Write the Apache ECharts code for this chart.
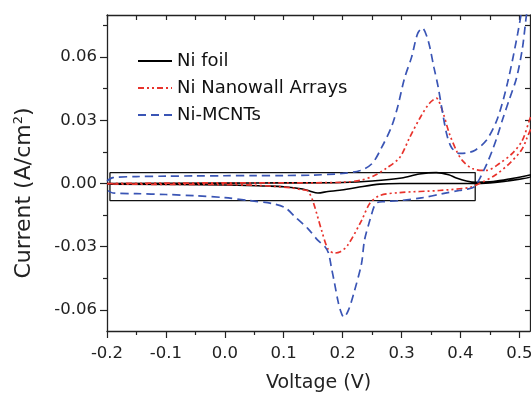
<!DOCTYPE html>
<html>
<head>
<meta charset="utf-8">
<script src="https://cdn.jsdelivr.net/npm/echarts@6/dist/echarts.min.js"></script>
<style>
html,body{margin:0;padding:0;background:#fff;}
#chart{width:531px;height:393px;}
</style>
</head>
<body>
<div id="chart"></div>
<script>
// ---- data ----
var seriesNames = ['Ni foil', 'Ni Nanowall Arrays', 'Ni-MCNTs'];

var foilX = [-0.2, 0.0, 0.1, 0.2, 0.25, 0.3, 0.33, 0.359, 0.38, 0.393, 0.41, 0.427, 0.45, 0.466, 0.49, 0.52,
             0.52, 0.48, 0.45, 0.42, 0.35, 0.297, 0.263, 0.224, 0.195, 0.175, 0.158, 0.145, 0.132, 0.1, 0.07, 0.0, -0.2];
var foilY = [0.0, 0.0002, 0.0003, 0.0005, 0.0012, 0.0026, 0.0045, 0.0052, 0.0042, 0.0026, 0.0012, 0.0006, 0.0008, 0.0014, 0.0025, 0.0042,
             0.0035, 0.0012, 0.0003, 0.0, 0.0, 0.0, -0.0003, -0.0019, -0.0032, -0.0038, -0.0045, -0.0037, -0.0026, -0.0015, -0.0012, -0.0007, -0.0003];

var nanoX = [-0.2, -0.1, 0.0, 0.1, 0.2, 0.23, 0.254, 0.276, 0.297, 0.314, 0.331, 0.347, 0.359, 0.369, 0.381, 0.393, 0.403, 0.42, 0.444, 0.466, 0.488, 0.505, 0.517, 0.525,
             0.525, 0.512, 0.503, 0.483, 0.458, 0.432, 0.415, 0.364, 0.297, 0.263, 0.246, 0.232, 0.208, 0.195, 0.186, 0.175, 0.164, 0.149, 0.14, 0.132, 0.11, 0.05, 0.0, -0.1, -0.2];
var nanoY = [0.0, 0.0002, 0.0003, 0.0003, 0.0006, 0.0015, 0.0038, 0.0076, 0.0124, 0.022, 0.031, 0.038, 0.0405, 0.0348, 0.0238, 0.0157, 0.011, 0.0071, 0.0062, 0.0095, 0.0143, 0.0205, 0.03, 0.036,
             0.032, 0.021, 0.0157, 0.0095, 0.0038, 0.0, -0.0019, -0.0033, -0.0043, -0.0057, -0.0095, -0.0176, -0.0295, -0.0325, -0.033, -0.031, -0.022, -0.008, -0.0033, -0.0030, -0.0019, -0.0008, -0.0005, -0.0004, -0.0002];

var mcntX = [-0.2, -0.19, -0.15, -0.1, -0.05, 0.0, 0.05, 0.1, 0.15, 0.2, 0.23, 0.25, 0.266, 0.283, 0.293, 0.305, 0.317, 0.327, 0.335, 0.345, 0.355, 0.362, 0.37, 0.377, 0.385, 0.398, 0.41, 0.424, 0.444, 0.463, 0.48, 0.497, 0.51, 0.525,
             0.525, 0.512, 0.505, 0.495, 0.483, 0.471, 0.462, 0.454, 0.445, 0.437, 0.43, 0.424, 0.41, 0.398, 0.37, 0.336, 0.297, 0.27, 0.259, 0.254, 0.246, 0.237, 0.232, 0.22, 0.21, 0.202, 0.196, 0.192, 0.186, 0.181, 0.176, 0.17, 0.158, 0.141, 0.12, 0.102, 0.08, 0.042, 0.0, -0.05, -0.1, -0.15, -0.19, -0.2];
var mcntY = [0.0012, 0.0028, 0.0033, 0.0035, 0.0036, 0.0037, 0.0038, 0.0038, 0.004, 0.0048, 0.0062, 0.0095, 0.017, 0.027, 0.036, 0.050, 0.060, 0.071, 0.0738, 0.068, 0.055, 0.046, 0.033, 0.023, 0.017, 0.0143, 0.0145, 0.0157, 0.0205, 0.031, 0.048, 0.071, 0.092, 0.115,
             0.105, 0.080, 0.064, 0.050, 0.040, 0.030, 0.022, 0.0157, 0.0095, 0.0048, 0.001, -0.0015, -0.0028, -0.0033, -0.0048, -0.0067, -0.0081, -0.0086, -0.009, -0.0105, -0.0176, -0.027, -0.038, -0.051, -0.060, -0.0635, -0.060, -0.0557, -0.047, -0.040, -0.033, -0.030, -0.027, -0.0214, -0.016, -0.0114, -0.0095, -0.0081, -0.0067, -0.0058, -0.0052, -0.0048, -0.0045, -0.003];

var boxX = [-0.195, 0.425, 0.425, -0.195, -0.195];
var boxY = [0.0052, 0.0052, -0.0081, -0.0081, 0.0052];

var xMajorTicks = [-0.2, -0.1, 0.0, 0.1, 0.2, 0.3, 0.4, 0.5];
var xMinorTicks = [-0.15, -0.05, 0.05, 0.15, 0.25, 0.35, 0.45];
var yMajorTicks = [-0.06, -0.03, 0.0, 0.03, 0.06];
var yMinorTicks = [-0.045, -0.015, 0.015, 0.045, 0.075];

// ---- build ----
function pairs(xs, ys) { return xs.map(function (x, i) { return [x, ys[i]]; }); }

var FONT = 'DejaVu Sans, Verdana, sans-serif';
var AX = '#222';
var XMIN = -0.2, XMAX = 0.518, YMIN = -0.07, YMAX = 0.08;

var chart = echarts.init(document.getElementById('chart'), null, {renderer: 'canvas'});
var baseAxisLine = {show: true, onZero: false, lineStyle: {color: AX, width: 1.3}};
var noAxisLine = {show: false, onZero: false};

chart.setOption({
  animation: false,
  backgroundColor: '#fff',
  grid: {left: 107, right: 1, top: 15, bottom: 62, containLabel: false, outerBoundsMode: 'none'},
  legend: {
    data: seriesNames,
    orient: 'vertical',
    left: 137, top: 52, padding: 0,
    itemWidth: 34, itemHeight: 17, itemGap: 9,
    itemStyle: {opacity: 0, color: 'rgba(0,0,0,0)', borderWidth: 0},
    textStyle: {fontFamily: FONT, fontSize: 18, color: '#111'}
  },
  xAxis: [
    {
      type: 'value', position: 'bottom', min: XMIN, max: XMAX,
      axisLine: baseAxisLine,
      axisTick: {show: true, inside: false, length: 7, lineStyle: {color: AX, width: 1.2}, customValues: xMajorTicks},
      axisLabel: {show: true, customValues: xMajorTicks, margin: 14, fontFamily: FONT, fontSize: 16.5, color: '#222',
        formatter: function (v) { return v.toFixed(1); }},
      splitLine: {show: false},
      name: 'Voltage (V)', nameLocation: 'middle', nameGap: 43,
      nameTextStyle: {fontFamily: FONT, fontSize: 19, color: '#222'}
    },
    {
      type: 'value', position: 'bottom', min: XMIN, max: XMAX,
      axisLine: noAxisLine,
      axisTick: {show: true, inside: false, length: 4, lineStyle: {color: AX, width: 1.2}, customValues: xMinorTicks},
      axisLabel: {show: false}, splitLine: {show: false}
    },
    {
      type: 'value', position: 'top', min: XMIN, max: XMAX,
      axisLine: baseAxisLine,
      axisTick: {show: true, inside: true, length: 5, lineStyle: {color: AX, width: 1.2}, customValues: xMajorTicks.concat(xMinorTicks)},
      axisLabel: {show: false}, splitLine: {show: false}
    }
  ],
  yAxis: [
    {
      type: 'value', position: 'left', min: YMIN, max: YMAX,
      axisLine: baseAxisLine,
      axisTick: {show: true, inside: false, length: 7, lineStyle: {color: AX, width: 1.2}, customValues: yMajorTicks},
      axisLabel: {show: true, customValues: yMajorTicks, margin: 10, fontFamily: FONT, fontSize: 16.5, color: '#222',
        formatter: function (v) { return v.toFixed(2); }},
      splitLine: {show: false},
      name: 'Current (A/cm{sup|2})', nameLocation: 'middle', nameGap: 71, nameRotate: 90,
      nameTextStyle: {fontFamily: FONT, fontSize: 22, color: '#222', padding: [0, 40, 0, 0],
        rich: {sup: {fontFamily: FONT, fontSize: 13, color: '#222', padding: [0, 0, 11, 0]}}}
    },
    {
      type: 'value', position: 'left', min: YMIN, max: YMAX,
      axisLine: noAxisLine,
      axisTick: {show: true, inside: false, length: 4, lineStyle: {color: AX, width: 1.2}, customValues: yMinorTicks},
      axisLabel: {show: false}, splitLine: {show: false}
    },
    {
      type: 'value', position: 'right', min: YMIN, max: YMAX,
      axisLine: baseAxisLine,
      axisTick: {show: true, inside: true, length: 5, lineStyle: {color: AX, width: 1.2}, customValues: yMajorTicks.concat(yMinorTicks)},
      axisLabel: {show: false}, splitLine: {show: false}
    }
  ],
  series: [
    {
      name: 'box', type: 'line', data: pairs(boxX, boxY), showSymbol: false, symbol: 'none',
      lineStyle: {color: '#111', width: 1.3}, silent: true, z: 1
    },
    {
      name: seriesNames[0], type: 'line', data: pairs(foilX, foilY), symbol: 'none', smooth: 0.3,
      itemStyle: {color: '#000'}, lineStyle: {color: '#000', width: 1.6, type: 'solid'}, z: 3
    },
    {
      name: seriesNames[1], type: 'line', data: pairs(nanoX, nanoY), symbol: 'none', smooth: 0.3,
      itemStyle: {color: '#e8332c'}, lineStyle: {color: '#e8332c', width: 1.7, type: [6, 3, 2, 3, 2, 3]}, z: 4
    },
    {
      name: seriesNames[2], type: 'line', data: pairs(mcntX, mcntY), symbol: 'none', smooth: 0.3,
      itemStyle: {color: '#3a55b5'}, lineStyle: {color: '#3a55b5', width: 1.7, type: [8, 5]}, z: 5
    }
  ]
});
</script>
</body>
</html>
